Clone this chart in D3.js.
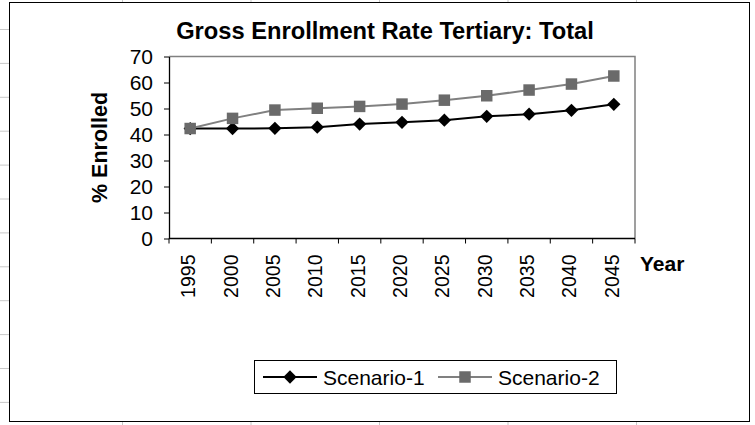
<!DOCTYPE html>
<html lang="en">
<head>
<meta charset="UTF-8">
<title>Gross Enrollment Rate Tertiary: Total</title>
<script src="https://cdn.jsdelivr.net/npm/d3@7"></script>
<style>
  html, body { margin: 0; padding: 0; background: #fff; }
  svg { display: block; font-family: Arial, "Liberation Sans", sans-serif; }
</style>
</head>
<body>
<svg id="chart" width="755" height="425"></svg>
<script>
// data
const years = ["1995", "2000", "2005", "2010", "2015", "2020", "2025", "2030", "2035", "2040", "2045"];
const scenario1 = [42.3, 42.3, 42.4, 42.8, 44.0, 44.7, 45.5, 47.0, 47.8, 49.3, 51.6];
const scenario2 = [42.3, 46.2, 49.4, 50.1, 50.8, 51.7, 53.2, 54.9, 57.1, 59.4, 62.5];
const seriesNames = ["Scenario-1", "Scenario-2"];
const yTicks = [0, 10, 20, 30, 40, 50, 60, 70];

const svg = d3.select("#chart");

// spreadsheet grid showing around the chart object
const sheet = svg.append("g").attr("stroke", "#c8c8c8").attr("stroke-width", 1);
d3.range(29.5, 425, 33.9).forEach(yy => {
    sheet.append("line").attr("x1", 0).attr("x2", 10).attr("y1", yy).attr("y2", yy);
});
d3.range(122.5, 750, 128.5).forEach(xx => {
    sheet.append("line").attr("x1", xx).attr("x2", xx).attr("y1", 0).attr("y2", 425);
});

// chart frame
svg.append("rect")
    .attr("x", 9.5).attr("y", 2.5)
    .attr("width", 740).attr("height", 419)
    .attr("fill", "#fff")
    .attr("stroke", "#000")
    .attr("stroke-width", 1);

const plot = {left: 169, right: 635, top: 56.5, bottom: 238.5};

const x = d3.scaleBand()
    .domain(years)
    .range([plot.left, plot.right])
    .padding(0);

const y = d3.scaleLinear()
    .domain([0, 70])
    .range([plot.bottom, plot.top]);

const cx = (d, i) => x(years[i]) + x.bandwidth() / 2;

// plot area border (top and right are grey)
svg.append("path")
    .attr("d", `M${plot.left},${plot.top}H${plot.right}V${plot.bottom}`)
    .attr("fill", "none")
    .attr("stroke", "#808080")
    .attr("stroke-width", 1.5);

// title
svg.append("text")
    .attr("x", 385)
    .attr("y", 38.5)
    .attr("text-anchor", "middle")
    .attr("font-size", "23.7px")
    .attr("font-weight", "bold")
    .text("Gross Enrollment Rate Tertiary: Total");

// y axis
const yAxis = svg.append("g")
    .attr("transform", `translate(${plot.left},0)`)
    .call(d3.axisLeft(y).tickValues(yTicks).tickSize(5).tickSizeOuter(0).tickPadding(11));
yAxis.select(".domain").attr("stroke", "#000").attr("stroke-width", 1.3);
yAxis.selectAll(".tick line").attr("stroke", "#000");
yAxis.selectAll(".tick text")
    .attr("font-family", "Arial, 'Liberation Sans', sans-serif")
    .attr("font-size", "21px")
    .attr("fill", "#000");

svg.append("text")
    .attr("transform", `translate(107,${(plot.top + plot.bottom) / 2}) rotate(-90)`)
    .attr("text-anchor", "middle")
    .attr("font-size", "21.5px")
    .attr("font-weight", "bold")
    .text("% Enrolled");

// x axis: labels from the axis, ticks between categories
const xAxis = svg.append("g")
    .attr("transform", `translate(0,${plot.bottom})`)
    .call(d3.axisBottom(x).tickSize(0).tickSizeOuter(0));
xAxis.select(".domain").remove();
xAxis.selectAll(".tick text")
    .attr("font-family", "Arial, 'Liberation Sans', sans-serif")
    .attr("font-size", "19.5px")
    .attr("fill", "#000")
    .attr("transform", "rotate(-90)")
    .attr("text-anchor", "end")
    .attr("x", -16)
    .attr("y", -2)
    .attr("dy", "0.36em");

svg.append("line")
    .attr("x1", plot.left).attr("x2", plot.right)
    .attr("y1", plot.bottom).attr("y2", plot.bottom)
    .attr("stroke", "#000").attr("stroke-width", 1.3);

svg.append("g").selectAll("line")
    .data(years.map(d => x(d)).concat([x.range()[1]]))
    .join("line")
    .attr("x1", d => d).attr("x2", d => d)
    .attr("y1", plot.bottom).attr("y2", plot.bottom + 5)
    .attr("stroke", "#000");

svg.append("text")
    .attr("x", 640)
    .attr("y", 271)
    .attr("font-size", "21px")
    .attr("font-weight", "bold")
    .text("Year");

// series
const series = [
    {name: seriesNames[0], values: scenario1, line: "#000", mark: "#000", shape: "diamond"},
    {name: seriesNames[1], values: scenario2, line: "#808080", mark: "#6a6a6a", shape: "square"}
];

const markerPath = {
    diamond: d3.symbol().type(d3.symbolSquare).size(88)(),
    square: d3.symbol().type(d3.symbolSquare).size(132)()
};
const markerRot = {diamond: 45, square: 0};

const lineGen = d3.line().x(cx).y(d => y(d));

series.forEach(s => {
    svg.append("path")
        .datum(s.values)
        .attr("d", lineGen)
        .attr("fill", "none")
        .attr("stroke", s.line)
        .attr("stroke-width", 2);

    svg.append("g").selectAll("path")
        .data(s.values)
        .join("path")
        .attr("d", markerPath[s.shape])
        .attr("transform", (d, i) => `translate(${cx(d, i)},${y(d)}) rotate(${markerRot[s.shape]})`)
        .attr("fill", s.mark);
});

// legend
const legend = svg.append("g");
legend.append("rect")
    .attr("x", 254.5).attr("y", 360.5)
    .attr("width", 362).attr("height", 33)
    .attr("fill", "#fff")
    .attr("stroke", "#000");

series.forEach((s, i) => {
    const lx = 263 + i * 175;
    const ly = 377;
    legend.append("line")
        .attr("x1", lx).attr("x2", lx + 54)
        .attr("y1", ly).attr("y2", ly)
        .attr("stroke", s.line)
        .attr("stroke-width", 2);
    legend.append("path")
        .attr("d", markerPath[s.shape])
        .attr("transform", `translate(${lx + 27},${ly}) rotate(${markerRot[s.shape]})`)
        .attr("fill", s.mark);
    legend.append("text")
        .attr("x", lx + 60)
        .attr("y", ly + 7.5)
        .attr("font-size", "21px")
        .text(s.name);
});
</script>
</body>
</html>
